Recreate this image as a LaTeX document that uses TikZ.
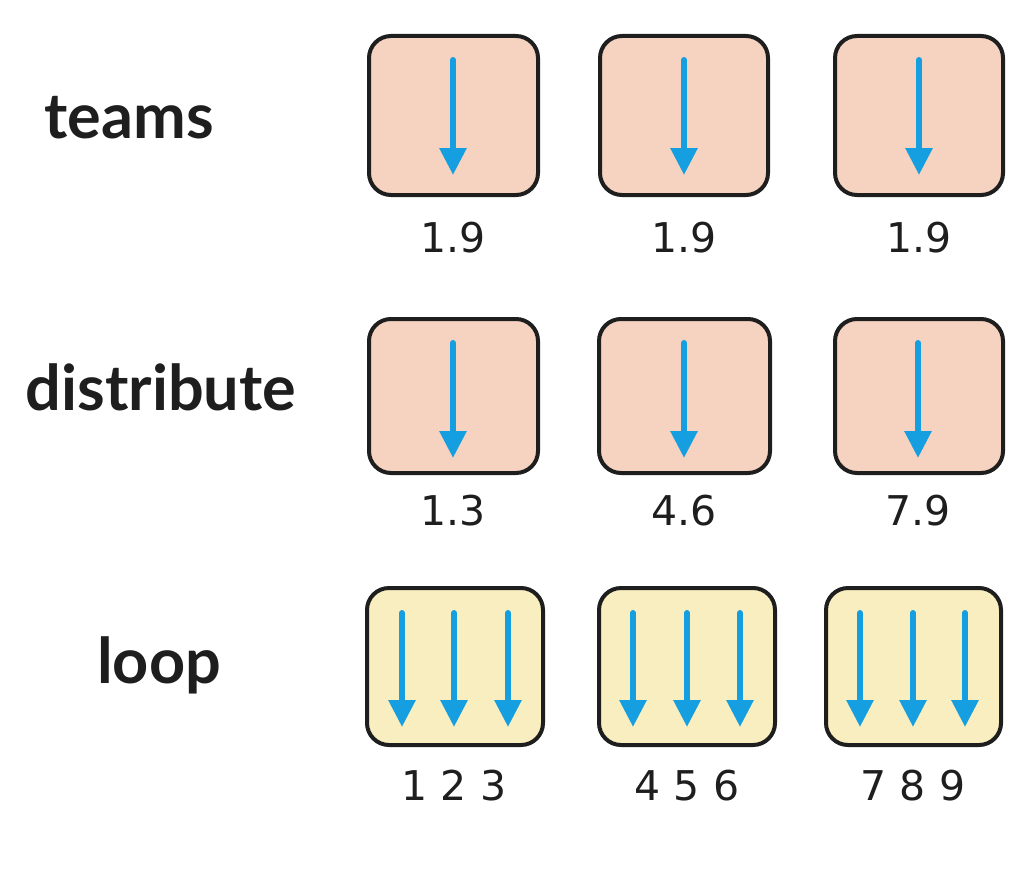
\documentclass[tikz,border=0pt]{standalone}
\usepackage{fontspec}
\setmainfont{DejaVu Sans}
\newfontfamily\headfont{Lato}
\usetikzlibrary{arrows.meta}
\definecolor{pinkfill}{HTML}{F6D3C1}
\definecolor{yelfill}{HTML}{F8EEC0}
\definecolor{arrblue}{HTML}{169FE0}
\definecolor{ink}{HTML}{1E1E1E}
\tikzset{
  box/.style={draw=ink, line width=4pt, rounded corners=22pt, inner sep=0pt},
  pinkbox/.style={box, fill=pinkfill},
  yelbox/.style={box, fill=yelfill},
  flow/.style={draw=arrblue, line width=6pt, line cap=round, -{Triangle[width=26pt,length=27pt]}},
  rowlabel/.style={anchor=base, text=ink, font=\headfont\bfseries\fontsize{63}{70}\selectfont},
  numlabel/.style={anchor=base, text=ink, font=\fontsize{41}{48}\selectfont},
}
\begin{document}
\begin{tikzpicture}[x=1pt,y=-1pt]
\useasboundingbox (0,0) rectangle (1016,891);
% row labels
\node[rowlabel] (lteams) at (129,138) {teams};
\node[rowlabel] (ldist) at (161,410) {distribute};
\node[rowlabel] (lloop) at (159,683) {loop};
% row 1 boxes
\node[pinkbox, minimum width=169pt, minimum height=159pt] (b11) at (453.5,115.5) {};
\node[pinkbox, minimum width=168pt, minimum height=159pt] (b12) at (684,115.5) {};
\node[pinkbox, minimum width=168pt, minimum height=159pt] (b13) at (919,115.5) {};
% row 2 boxes
\node[pinkbox, minimum width=169pt, minimum height=154pt] (b21) at (453.5,396) {};
\node[pinkbox, minimum width=171pt, minimum height=154pt] (b22) at (684.5,396) {};
\node[pinkbox, minimum width=168pt, minimum height=154pt] (b23) at (919,396) {};
% row 3 boxes
\node[yelbox, minimum width=176pt, minimum height=157pt] (b31) at (455,666.5) {};
\node[yelbox, minimum width=176pt, minimum height=157pt] (b32) at (687,666.5) {};
\node[yelbox, minimum width=175pt, minimum height=157pt] (b33) at (913.5,666.5) {};
% arrows row 1
\foreach \x [count=\i] in {453,684,919}{
  \coordinate (s1\i) at (\x,60);
  \coordinate (e1\i) at (\x,175);
  \draw[flow] (s1\i) -- (e1\i);
}
% arrows row 2
\foreach \x [count=\i] in {453,684,918}{
  \coordinate (s2\i) at (\x,343);
  \coordinate (e2\i) at (\x,458);
  \draw[flow] (s2\i) -- (e2\i);
}
% arrows row 3
\foreach \x [count=\i] in {402,454,508,633,687,740,860,913,965}{
  \coordinate (s3\i) at (\x,613);
  \coordinate (e3\i) at (\x,727);
  \draw[flow] (s3\i) -- (e3\i);
}
% number labels
\node[numlabel] (n11) at (453,252) {1.9};
\node[numlabel] (n12) at (684,252) {1.9};
\node[numlabel] (n13) at (919,252) {1.9};
\node[numlabel] (n21) at (453,525) {1.3};
\node[numlabel] (n22) at (684,525) {4.6};
\node[numlabel] (n23) at (918,525) {7.9};
\node[numlabel] (n31) at (454,800) {1 2 3};
\node[numlabel] (n32) at (687,800) {4 5 6};
\node[numlabel] (n33) at (913,800) {7 8 9};
\end{tikzpicture}
\end{document}
